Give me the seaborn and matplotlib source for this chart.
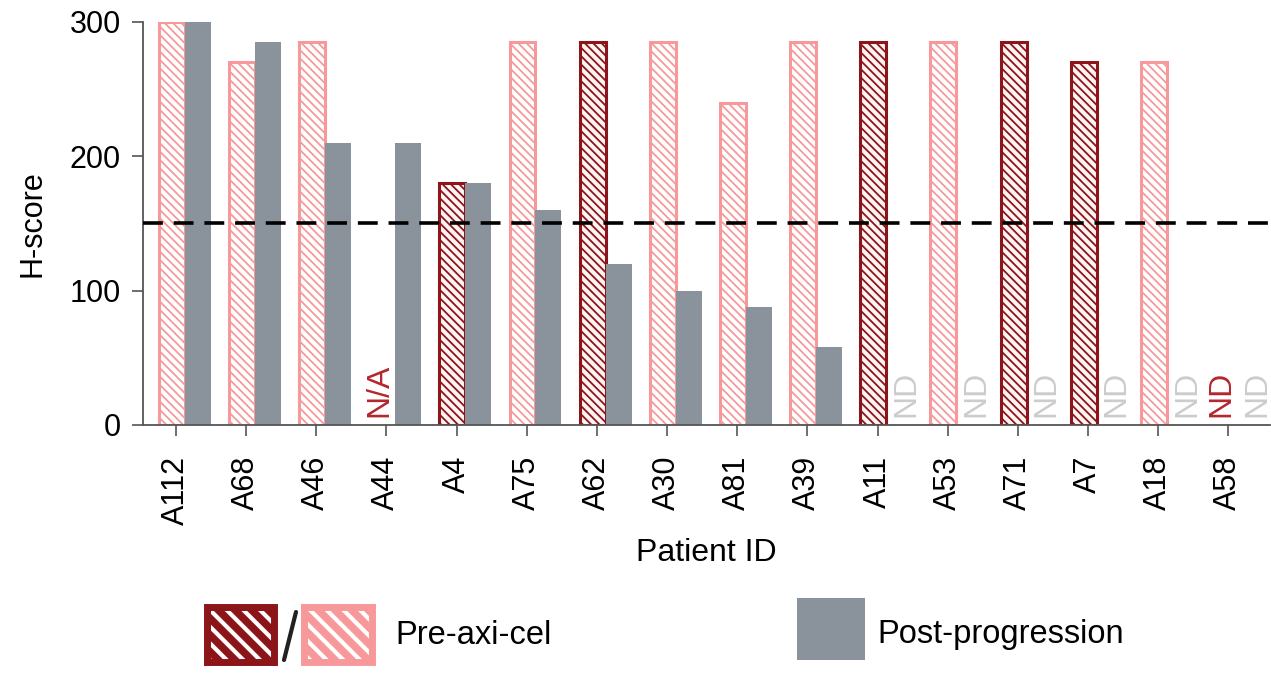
import numpy as np
import pandas as pd
import matplotlib
matplotlib.use("Agg")
import matplotlib.pyplot as plt
import matplotlib.patches as mpatches
import seaborn as sns

# H-score per patient, before axi-cel and after progression
patients = ["A112", "A68", "A46", "A44", "A4", "A75", "A62", "A30",
            "A81", "A39", "A11", "A53", "A71", "A7", "A18", "A58"]
pre_scores = [300, 270, 285, np.nan, 180, 285, 285, 285,
              240, 285, 285, 285, 285, 270, 270, np.nan]
pre_group = ["light", "light", "light", "light", "dark", "light", "dark", "light",
             "light", "light", "dark", "light", "dark", "dark", "light", "light"]
post_scores = [300, 285, 210, 210, 180, 160, 120, 100,
               88, 58, np.nan, np.nan, np.nan, np.nan, np.nan, np.nan]
threshold = 150

# annotations for missing samples: (patient, sample, text, colour key)
missing_notes = [("A44", "pre", "N/A", "red"),
                 ("A11", "post", "ND", "grey"),
                 ("A53", "post", "ND", "grey"),
                 ("A71", "post", "ND", "grey"),
                 ("A7", "post", "ND", "grey"),
                 ("A18", "post", "ND", "grey"),
                 ("A58", "pre", "ND", "red"),
                 ("A58", "post", "ND", "grey")]

DARK = "#8b1518"
LIGHT = "#f7999b"
GREY = "#8a939b"
NOTE_COLORS = {"red": "#b3272c", "grey": "#cccccc"}
PRE_SHIFT, POST_SHIFT, BAR_W = -0.06, 0.31, 0.37

idx = np.arange(len(patients))
pre_df = pd.DataFrame({"pos": idx + PRE_SHIFT, "score": pre_scores, "group": pre_group})
post_df = pd.DataFrame({"pos": idx + POST_SHIFT, "score": post_scores})

sns.set_theme(style="ticks")
plt.rcParams["font.family"] = ["Liberation Sans", "DejaVu Sans"]
plt.rcParams["text.color"] = "black"
plt.rcParams["axes.labelcolor"] = "black"
plt.rcParams["xtick.labelcolor"] = "black"
plt.rcParams["ytick.labelcolor"] = "black"
plt.rcParams["hatch.linewidth"] = 1.3

fig = plt.figure(figsize=(12.71, 6.85), dpi=100)
ax = fig.add_axes([0.1125, 0.3796, 0.887, 0.5884])

sns.barplot(data=pre_df, x="pos", y="score", hue="group", native_scale=True,
            palette={"dark": DARK, "light": LIGHT}, dodge=False, width=BAR_W,
            saturation=1, legend=False, ax=ax)
# hatched outline style for the pre-treatment bars
for p in list(ax.patches):
    fc = matplotlib.colors.to_hex(p.get_facecolor())
    p.set_edgecolor(fc)
    p.set_facecolor("#fff4f4" if fc.lower() == DARK.lower() else "white")
    p.set_hatch("\\\\\\\\")
    p.set_linewidth(2.2)
n_pre = len(ax.patches)

sns.barplot(data=post_df, x="pos", y="score", color=GREY, native_scale=True,
            width=BAR_W, saturation=1, linewidth=0, ax=ax)
for p in ax.patches[n_pre:]:
    p.set_facecolor(GREY)
    p.set_edgecolor("none")

ax.axhline(threshold, color="black", lw=2.6, ls=(0, (5.5, 3)), zorder=5)

for pid, sample, txt, ckey in missing_notes:
    i = patients.index(pid)
    xoff = -0.1 if sample == "pre" else 0.41
    ax.text(i + xoff, 6, txt, rotation=90, ha="center", va="bottom",
            fontsize=23, color=NOTE_COLORS[ckey])

ax.set_xlim(-0.47, 15.6)
ax.set_ylim(0, 300)
ax.set_xticks(idx)
ax.set_xticklabels(patients, rotation=90, fontsize=22)
ax.set_yticks([0, 100, 200, 300])
ax.set_yticklabels(["0", "100", "200", "300"], fontsize=22)
ax.tick_params(axis="both", direction="out", length=8, width=1.2, color="#555555")
ax.tick_params(axis="x", pad=14)
ax.tick_params(axis="y", pad=8)
for s in ["top", "right"]:
    ax.spines[s].set_visible(False)
for s in ["left", "bottom"]:
    ax.spines[s].set_color("#555555")
    ax.spines[s].set_linewidth(1.3)
ax.set_xlabel("Patient ID", fontsize=23, labelpad=10)
ax.set_ylabel("H-score", fontsize=22, labelpad=16)

# legend drawn in figure pixels
W, H = 1271, 685
def fig_rect(x0, y0, x1, y1, **kw):
    r = mpatches.Rectangle((x0 / W, 1 - y1 / H), (x1 - x0) / W, (y1 - y0) / H,
                           transform=fig.transFigure, **kw)
    fig.add_artist(r)
    return r

plt.rcParams["hatch.linewidth"] = 3.0
fig_rect(207, 607, 274, 662, facecolor=DARK, edgecolor="white", hatch="\\\\", lw=0)
fig_rect(207, 607, 274, 662, facecolor="none", edgecolor=DARK, lw=5)
fig_rect(304, 607, 372, 662, facecolor=LIGHT, edgecolor="white", hatch="\\\\", lw=0)
fig_rect(304, 607, 372, 662, facecolor="none", edgecolor=LIGHT, lw=5)
fig.add_artist(plt.Line2D([296 / W, 284 / W], [1 - 612 / H, 1 - 660 / H],
                          transform=fig.transFigure, color="#222222", lw=3))
fig.text(395 / W, 1 - 635 / H, "Pre-axi-cel", fontsize=23.5, va="center", ha="left")
fig_rect(797, 598, 865, 660, facecolor=GREY, edgecolor="none")
fig.text(877 / W, 1 - 635 / H, "Post-progression", fontsize=23.5, va="center", ha="left")

fig.savefig("out.png", dpi=100)
